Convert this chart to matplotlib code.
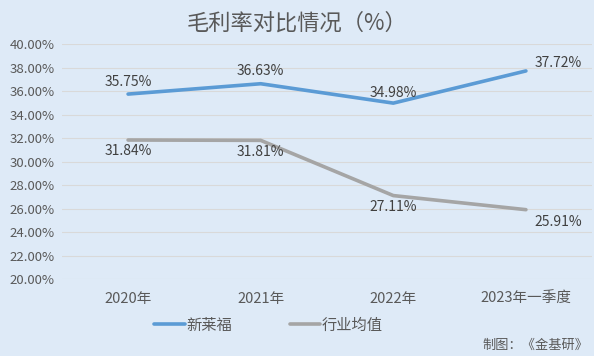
import matplotlib
matplotlib.use('Agg')
from matplotlib import pyplot as plt
from matplotlib.ticker import FuncFormatter

plt.rcParams['font.family'] = ['Noto Sans CJK SC', 'DejaVu Sans']

# 数据
categories = ['2020年', '2021年', '2022年', '2023年一季度']
xinlaifu = [35.75, 36.63, 34.98, 37.72]
industry = [31.84, 31.81, 27.11, 25.91]
series_names = ['新莱福', '行业均值']

bg = '#DEEAF7'
txt = '#595959'

fig = plt.figure(figsize=(5.94, 3.56), dpi=100, facecolor=bg)
ax = fig.add_axes([0.104, 0.216, 0.893, 0.66])
ax.set_facecolor(bg)

x = range(len(categories))
l1, = ax.plot(x, xinlaifu, color='#5B9BD5', lw=2.6, solid_capstyle='round', label=series_names[0])
l2, = ax.plot(x, industry, color='#A5A5A5', lw=2.6, solid_capstyle='round', label=series_names[1])

ax.set_xlim(-0.5, len(categories) - 0.5)
ax.set_ylim(20, 40)
ax.set_yticks(range(20, 41, 2))
ax.yaxis.set_major_formatter(FuncFormatter(lambda v, p: '%.2f%%' % v))
ax.set_xticks(list(x))
ax.set_xticklabels(categories)
ax.grid(axis='y', color='#D9D9D9', lw=0.8)
ax.set_axisbelow(True)
for s in ax.spines.values():
    s.set_visible(False)
ax.tick_params(length=0, colors=txt)
ax.tick_params(axis='x', pad=9, labelsize=10.5)
ax.tick_params(axis='y', pad=5, labelsize=9.5)

# 数据标签
lab = '#404040'
for i, v in enumerate(xinlaifu):
    if i == len(xinlaifu) - 1:
        ax.annotate('%.2f%%' % v, (i, v), xytext=(6, 6), textcoords='offset points',
                    ha='left', va='center', fontsize=10, color=lab)
    elif i == 2:
        ax.annotate('%.2f%%' % v, (i, v), xytext=(0, 2), textcoords='offset points',
                    ha='center', va='bottom', fontsize=10, color=lab)
    else:
        ax.annotate('%.2f%%' % v, (i, v), xytext=(0, 4), textcoords='offset points',
                    ha='center', va='bottom', fontsize=10, color=lab)
for i, v in enumerate(industry):
    if i == len(industry) - 1:
        ax.annotate('%.2f%%' % v, (i, v), xytext=(6, -9), textcoords='offset points',
                    ha='left', va='center', fontsize=10, color=lab)
    else:
        ax.annotate('%.2f%%' % v, (i, v), xytext=(0, -3), textcoords='offset points',
                    ha='center', va='top', fontsize=10, color=lab)

fig.text(0.5, 0.935, '毛利率对比情况（%）', ha='center', va='center', fontsize=16, color=txt)

fig.legend(handles=[l1, l2], loc='center', bbox_to_anchor=(0.452, 0.087), ncol=2,
           frameon=False, fontsize=11, handlelength=2.0, columnspacing=3.8,
           handletextpad=0.1, labelcolor=txt)

fig.text(0.99, 0.03, '制图：《金基研》', ha='right', va='center', fontsize=9.5, color=txt)

fig.savefig('out.png', dpi=100, facecolor=bg)
